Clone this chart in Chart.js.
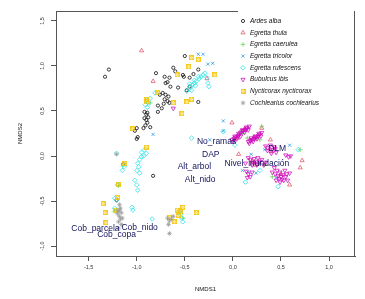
<!DOCTYPE html>
<html>
<head>
<meta charset="utf-8">
<script src="https://cdn.jsdelivr.net/npm/chart.js@4/dist/chart.umd.min.js"></script>
<style>
  html, body { margin: 0; padding: 0; background: #fff; }
</style>
</head>
<body>
<canvas id="nmdsChart" width="365" height="299"></canvas>
<script>
// espèces (ordre de la légende)
const species = ['Ardes alba', 'Egretta thula', 'Egretta caerulea', 'Egretta tricolor',
                 'Egretta rufescens', 'Bubulcus ibis', 'Nycticorax nycticorax', 'Cochlearius cochlearius'];

const albaX = [-1.29,-1.33,-0.50,-0.52,-0.51,-0.80,-0.71,-0.66,-0.68,-0.70,-0.62,-0.60,-0.65,-0.57,-0.48,-0.45,-0.73,-0.70,-0.67,-0.71,-0.68,-0.66,-0.72,-0.76,-0.78,-0.36,-0.92,-0.89,-0.90,-0.88,-0.92,-0.90,-0.89,-0.91,-0.86,-0.93,-1.00,-1.02,-0.99,-1.00,-0.83,-1.14,-1.21,-0.78,-0.74,-0.45,-0.41,-0.36];
const albaY = [0.96,0.88,1.11,0.90,0.88,0.92,0.88,0.87,0.82,0.81,0.98,0.94,0.77,0.76,0.73,0.77,0.70,0.68,0.66,0.63,0.61,0.59,0.58,0.68,0.49,0.60,0.49,0.48,0.46,0.43,0.42,0.40,0.37,0.34,0.32,0.31,0.31,0.28,0.21,0.19,-0.22,-0.09,-0.49,0.56,0.53,0.87,0.91,0.96];

const thulaX = [-0.95,-0.83,-0.27,-0.01,0.06,0.39,0.23,0.70,0.72,0.59,0.30,0.05,0.12,0.22,0.50,0.40,0.20];
const thulaY = [1.17,0.83,0.86,0.37,0.02,0.18,-0.10,-0.13,-0.05,-0.32,0.31,0.20,0.30,0.21,-0.20,0.05,-0.06];

const caeruleaX = [0.15,0.30,0.41,0.28,0.70,-1.21,-1.19,-1.23,-0.52,-0.86,0.33,0.10,0.25];
const caeruleaY = [0.20,0.33,-0.23,0.18,0.07,-0.60,-0.33,-0.61,-0.69,0.59,-0.10,0.25,0.20];

const tricolorX = [-0.36,-0.31,-0.26,-0.21,-0.10,-0.10,-0.24,-0.83,0.19,0.24,0.10,0.59,0.16,0.02,0.33,0.08,0.45,0.28];
const tricolorY = [1.13,1.13,1.02,1.03,0.39,0.28,0.18,0.24,0.02,-0.19,-0.16,0.12,-0.18,0.16,0.07,0.27,-0.24,-0.07];

const rufescensX = [-0.48,-0.46,-0.44,-0.42,-0.40,-0.38,-0.35,-0.33,-0.31,-0.29,-0.45,-0.40,-0.36,-0.43,-0.39,-0.27,-0.26,-0.25,
  -0.90,-0.88,-0.91,-0.86,-0.81,-0.89,
  -1.21,-0.95,-0.92,-0.90,-0.93,-0.97,-0.95,-0.99,-0.98,-1.00,-0.97,-1.02,-1.00,-0.99,-1.13,-1.15,-1.14,-1.20,-1.23,-1.21,-1.23,-1.05,-1.04,-0.84,-0.43,-0.55,-0.54,-0.53,-0.52,-0.57,-0.10,
  0.47,0.13,0.68,0.28,0.02];
const rufescensY = [0.72,0.74,0.77,0.79,0.81,0.83,0.86,0.88,0.90,0.92,0.80,0.84,0.88,0.73,0.78,0.87,0.81,0.77,
  0.62,0.59,0.57,0.64,0.70,0.54,
  0.03,0.04,0.07,0.03,0.00,-0.04,-0.01,-0.08,-0.12,-0.16,-0.19,-0.27,-0.32,-0.38,-0.12,-0.16,-0.10,-0.32,-0.47,-0.49,-0.58,-0.57,-0.60,-0.70,0.20,-0.60,-0.64,-0.69,-0.73,-0.63,0.27,
  -0.34,-0.29,0.07,-0.16,0.12];

const ibisX = [-0.62, -0.01,0.01,0.03,0.05,0.07,0.08,0.10,0.13,0.15,0.17,0.02,0.06,0.11,0.14,
  0.00,0.04,0.08,0.12,0.16,0.02,0.06,0.10,0.14,
  0.16,0.18,0.20,0.22,0.24,0.26,0.28,0.30,0.19,0.23,0.27,
  0.17,0.21,0.25,0.29,0.19,0.23,0.27,
  0.34,0.36,0.39,0.41,0.43,0.45,0.36,0.40,0.44,
  0.16,0.18,0.21,0.24,0.27,0.30,0.32,0.34,0.20,0.26,0.13,0.22,0.28,0.25,
  0.55,0.58,0.60,
  0.43,0.46,0.49,0.52,0.55,0.57,0.51,0.47,0.54,0.59,0.45,0.49,0.41,0.44,0.50,0.53,0.48,0.56,
  0.14,0.16,0.18,0.20,0.15];
const ibisY = [0.53, 0.18,0.19,0.21,0.22,0.24,0.26,0.28,0.29,0.31,0.33,0.20,0.23,0.28,0.30,
  0.16,0.19,0.22,0.26,0.29,0.22,0.25,0.29,0.32,
  0.16,0.17,0.18,0.19,0.21,0.22,0.24,0.26,0.18,0.20,0.23,
  0.14,0.16,0.19,0.22,0.20,0.22,0.25,
  0.11,0.09,0.12,0.07,0.10,0.04,0.06,0.03,0.08,
  -0.02,-0.04,-0.07,-0.06,-0.08,-0.04,-0.10,-0.07,-0.10,-0.02,-0.08,-0.03,-0.06,-0.10,
  0.01,-0.01,0.00,
  -0.13,-0.16,-0.18,-0.21,-0.23,-0.27,-0.26,-0.22,-0.16,-0.19,-0.27,-0.29,-0.18,-0.20,-0.23,-0.27,-0.25,-0.20,
  -0.17,-0.20,-0.23,-0.18,-0.24];

const nycticoraxX = [-0.43,-0.36,-0.46,-0.58,-0.19,-0.78,-0.90,-0.90,-0.48,-0.43,-0.53,-1.04,-0.62,-0.90,-1.13,-1.20,-1.35,-1.33,-1.32,-1.22,-1.19,-0.58,-0.55,-0.52,-0.38,-0.61,-0.57,-0.66];
const nycticoraxY = [1.09,1.07,0.99,0.90,0.90,0.70,0.63,0.60,0.60,0.63,0.47,0.30,0.59,0.10,-0.08,-0.46,-0.53,-0.63,-0.74,-0.60,-0.32,-0.60,-0.62,-0.57,-0.63,-0.73,-0.66,-0.68];

const cochleariusX = [-1.21,-1.18,-1.17,-1.19,-1.16,-1.18,-1.17,-1.19,-1.16,-1.18,-1.20,-1.15,-0.68,-0.66,-0.64,-0.67,-0.62,-0.66,-1.19];
const cochleariusY = [0.02,-0.54,-0.58,-0.61,-0.63,-0.67,-0.70,-0.73,-0.76,-0.60,-0.64,-0.69,-0.69,-0.72,-0.70,-0.76,-0.67,-0.86,-0.80];

// variables environnementales (envfit)
const envNames = ['No_ramas', 'DAP', 'Alt_arbol', 'Alt_nido', 'Nivel_inundación', 'DLM', 'Cob_parcela', 'Cob_copa', 'Cob_nido'];
const envX = [-0.17, -0.23, -0.40, -0.34, 0.25, 0.46, -1.43, -1.21, -0.97];
const envY = [0.16, 0.01, -0.12, -0.26, -0.09, 0.08, -0.81, -0.87, -0.79];

const xTicks = [-1.5, -1.0, -0.5, 0.0, 0.5, 1.0];
const yTicks = [-1.0, -0.5, 0.0, 0.5, 1.0, 1.5];

// palette R 4
const colors = ['#000000', '#DF536B', '#61D04F', '#2297E6', '#28E2E5', '#CD0BBC', '#F5C710', '#9E9E9E'];

// pch 7 : carré avec croix
function squareCross(color, size) {
    const c = document.createElement('canvas');
    c.width = size;
    c.height = size;
    const g = c.getContext('2d');
    g.strokeStyle = color;
    g.lineWidth = 0.9;
    g.strokeRect(0.5, 0.5, size - 1, size - 1);
    g.beginPath();
    g.moveTo(0.5, 0.5); g.lineTo(size - 0.5, size - 0.5);
    g.moveTo(size - 0.5, 0.5); g.lineTo(0.5, size - 0.5);
    g.stroke();
    return c;
}

const styles = [
    { pointStyle: 'circle', rotation: 0, radius: 1.6 },
    { pointStyle: 'triangle', rotation: 0, radius: 2.4 },
    { pointStyle: 'cross', rotation: 0, radius: 2.3 },
    { pointStyle: 'crossRot', rotation: 0, radius: 2.2 },
    { pointStyle: 'rectRot', rotation: 0, radius: 2.3 },
    { pointStyle: 'triangle', rotation: 180, radius: 2.4 },
    { pointStyle: squareCross(colors[6], 5), rotation: 0, radius: 2.5 },
    { pointStyle: 'star', rotation: 0, radius: 2.3 },
];

const xs = [albaX, thulaX, caeruleaX, tricolorX, rufescensX, ibisX, nycticoraxX, cochleariusX];
const ys = [albaY, thulaY, caeruleaY, tricolorY, rufescensY, ibisY, nycticoraxY, cochleariusY];

const datasets = species.map((name, s) => ({
    label: name,
    data: xs[s].map((x, k) => ({ x: x, y: ys[s][k] })),
    pointStyle: styles[s].pointStyle,
    rotation: styles[s].rotation,
    pointRadius: styles[s].radius,
    borderColor: colors[s],
    backgroundColor: 'rgba(0,0,0,0)',
    borderWidth: 0.75,
    order: species.length - s   // dernier dessiné au-dessus, comme dans R
}));

const fmt = v => v.toFixed(1).replace('.', ',');

const overlay = {
    id: 'overlay',
    afterDatasetsDraw(chart) {
        const { ctx, chartArea: a, scales: { x, y } } = chart;
        ctx.save();
        // cadre haut et droite
        ctx.strokeStyle = '#555';
        ctx.lineWidth = 1;
        ctx.beginPath();
        ctx.moveTo(a.left, a.top + 0.5);
        ctx.lineTo(238, a.top + 0.5);
        ctx.moveTo(a.right - 0.5, a.top);
        ctx.lineTo(a.right - 0.5, a.bottom);
        ctx.stroke();

        // étiquettes des variables
        ctx.font = '8.5px "Liberation Sans", Arial, sans-serif';
        ctx.fillStyle = '#12125e';
        ctx.textAlign = 'center';
        ctx.textBaseline = 'middle';
        envNames.forEach((n, k) => {
            ctx.fillText(n, x.getPixelForValue(envX[k]), y.getPixelForValue(envY[k]));
        });

        // légende
        ctx.font = 'italic 6.5px "Liberation Sans", Arial, sans-serif';
        ctx.textAlign = 'left';
        species.forEach((n, k) => {
            const ly = 21 + k * 11.7;
            ctx.strokeStyle = colors[k];
            ctx.fillStyle = 'rgba(0,0,0,0)';
            ctx.lineWidth = 0.75;
            Chart.helpers.drawPoint(ctx, {
                pointStyle: styles[k].pointStyle,
                rotation: styles[k].rotation,
                radius: styles[k].radius,
                borderWidth: 0.75
            }, 243, ly);
            ctx.fillStyle = '#111';
            ctx.fillText(n, 250, ly);
        });
        ctx.restore();
    }
};

const ctx = document.getElementById('nmdsChart').getContext('2d');
const chart = new Chart(ctx, {
    type: 'scatter',
    data: { datasets: datasets },
    options: {
        responsive: false,
        animation: false,
        devicePixelRatio: 1,
        layout: { padding: { left: 0, top: 11, right: 10, bottom: 0 } },
        plugins: {
            legend: { display: false },
            tooltip: { enabled: false }
        },
        scales: {
            x: {
                type: 'linear',
                min: -1.84,
                max: 1.27,
                afterBuildTicks: s => { s.ticks = xTicks.map(v => ({ value: v })); },
                afterFit: s => { s.height = 43; },
                grid: { drawOnChartArea: false, tickLength: 5, color: '#555' },
                border: { color: '#555', width: 1 },
                ticks: {
                    color: '#333',
                    padding: 3,
                    font: { family: 'Liberation Sans', size: 5.5 },
                    callback: v => fmt(v)
                },
                title: {
                    display: true,
                    text: 'NMDS1',
                    color: '#111',
                    font: { family: 'Liberation Sans', size: 6 },
                    padding: { top: 0, bottom: 6 }
                }
            },
            y: {
                type: 'linear',
                min: -1.11,
                max: 1.61,
                afterBuildTicks: s => { s.ticks = yTicks.map(v => ({ value: v })); },
                afterFit: s => { s.width = 56; },
                grid: { drawOnChartArea: false, tickLength: 5, color: '#555' },
                border: { color: '#555', width: 1 },
                ticks: {
                    color: '#333',
                    padding: 4,
                    minRotation: 90,
                    maxRotation: 90,
                    crossAlign: 'center',
                    font: { family: 'Liberation Sans', size: 5.5 },
                    callback: v => fmt(v)
                },
                title: {
                    display: true,
                    text: 'NMDS2',
                    color: '#111',
                    font: { family: 'Liberation Sans', size: 6 },
                    padding: { top: 17, bottom: 0 }
                }
            }
        }
    },
    plugins: [overlay]
});
</script>
</body>
</html>
